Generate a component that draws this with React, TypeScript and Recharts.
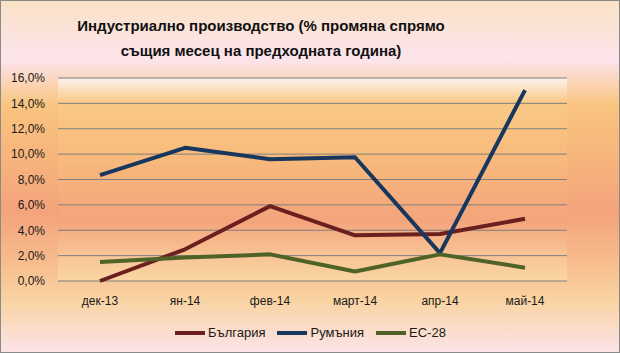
import React from "react";
import { LineChart, Line, XAxis, YAxis, CartesianGrid } from "recharts";

const months = ["дек-13", "ян-14", "фев-14", "март-14", "апр-14", "май-14"];
const bulgaria = [0.0, 2.5, 5.9, 3.6, 3.7, 4.9];
const romania = [8.35, 10.5, 9.6, 9.75, 2.2, 15.05];
const eu28 = [1.5, 1.85, 2.1, 0.75, 2.1, 1.05];
const yTicks = [0, 2, 4, 6, 8, 10, 12, 14, 16];
const seriesNames = ["България", "Румъния", "ЕС-28"];
const seriesColors = ["#6b1f1f", "#17375e", "#4f6228"];
const titleLines = ["Индустриално производство (% промяна спрямо", "същия месец на предходната година)"];

const data = months.map((m, i) => ({
  month: m,
  bg: bulgaria[i],
  ro: romania[i],
  eu: eu28[i],
}));
const keys = ["bg", "ro", "eu"];

const font = "'Liberation Sans', Arial, sans-serif";

export default function App() {
  return (
    <div
      style={{
        position: "relative",
        width: 620,
        height: 353,
        fontFamily: font,
        background:
          "linear-gradient(to bottom, #fae2c6 0%, #fce4ec 17%, #f9c47e 30%, #f7b47c 45%, #f4a37c 60%, #f7be8e 75%, #f9d3a2 85%, #fce4e8 100%)",
      }}
    >
      <style>{`body{margin:0}`}</style>
      <div
        style={{
          position: "absolute",
          left: 0,
          width: 522,
          top: 13,
          textAlign: "center",
          fontWeight: "bold",
          fontSize: 15,
          lineHeight: "25px",
          color: "#111",
        }}
      >
        {titleLines.map((t, i) => (
          <div key={i}>{t}</div>
        ))}
      </div>
      <LineChart
        width={620}
        height={353}
        data={data}
        margin={{ top: 78, right: 53, bottom: 0, left: 0 }}
        style={{ position: "absolute", left: 0, top: 0 }}
      >
        <defs>
          <linearGradient id="plotGrad" x1="0" y1="0" x2="0" y2="1">
            <stop offset="0%" stopColor="#fdf2ee" />
            <stop offset="12%" stopColor="#f9c986" />
            <stop offset="35%" stopColor="#f8bd7c" />
            <stop offset="70%" stopColor="#f4a47c" />
            <stop offset="85%" stopColor="#f7c092" />
            <stop offset="100%" stopColor="#fad6a4" />
          </linearGradient>
        </defs>
        <CartesianGrid
          vertical={false}
          stroke="#7f7f7f"
          strokeWidth={1}
          fill="url(#plotGrad)"
          fillOpacity={1}
        />
        <XAxis
          dataKey="month"
          height={72}
          axisLine={false}
          tickLine={false}
          tickMargin={9}
          padding={{ left: 42, right: 42 }}
          tick={{ fill: "#1a1a1a", fontSize: 12, fontFamily: font }}
          interval={0}
        />
        <YAxis
          width={58}
          domain={[0, 16]}
          ticks={yTicks}
          axisLine={false}
          tickLine={false}
          tickMargin={7}
          tickFormatter={(v: number) => v.toFixed(1).replace(".", ",") + "%"}
          tick={{ fill: "#1a1a1a", fontSize: 12, fontFamily: font }}
        />
        {keys.map((k, i) => (
          <Line
            key={k}
            dataKey={k}
            name={seriesNames[i]}
            stroke={seriesColors[i]}
            strokeWidth={4}
            dot={false}
            activeDot={false}
            isAnimationActive={false}
            strokeLinejoin="round"
          />
        ))}
      </LineChart>
      <div
        style={{
          position: "absolute",
          top: 325,
          left: 175,
          display: "flex",
          alignItems: "center",
          fontSize: 13,
          color: "#1a1a1a",
        }}
      >
        {seriesNames.map((n, i) => (
          <div key={n} style={{ display: "flex", alignItems: "center", marginRight: 12 }}>
            <div style={{ width: 30, height: 4, background: seriesColors[i], marginRight: 3 }} />
            <span>{n}</span>
          </div>
        ))}
      </div>
      <div
        style={{
          position: "absolute",
          left: 0,
          top: 0,
          width: 620,
          height: 353,
          boxSizing: "border-box",
          border: "1px solid #8a8a8a",
          pointerEvents: "none",
        }}
      />
    </div>
  );
}
